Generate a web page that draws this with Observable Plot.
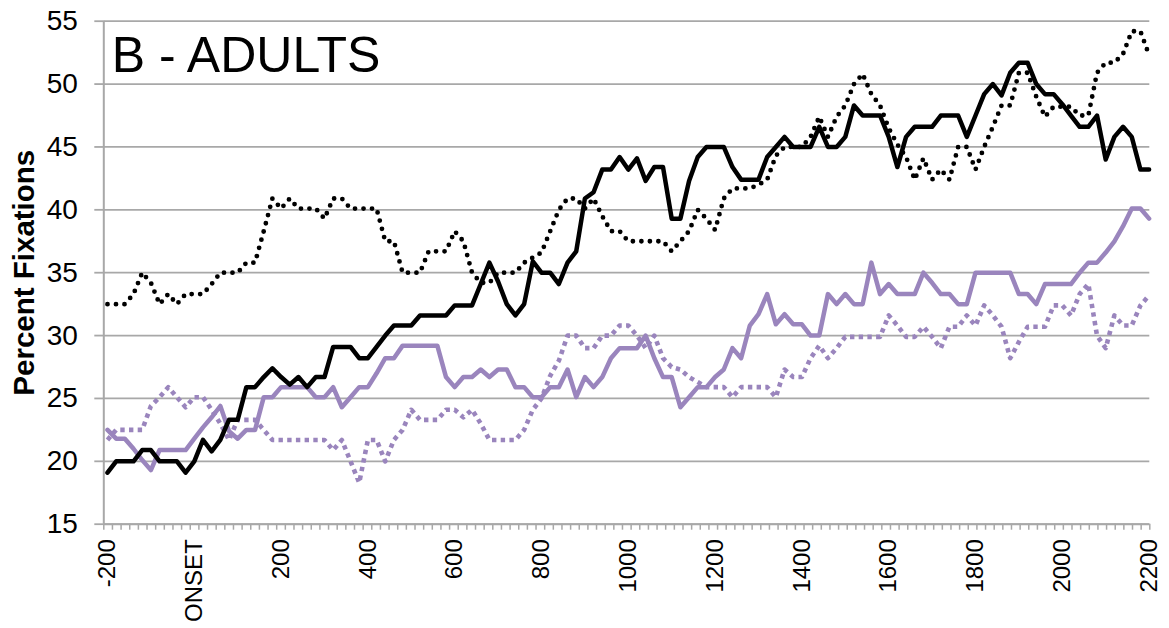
<!DOCTYPE html>
<html><head><meta charset="utf-8">
<script src="https://cdn.jsdelivr.net/npm/d3@7"></script>
<script src="https://cdn.jsdelivr.net/npm/@observablehq/plot@0.6"></script>
<style>
html,body{margin:0;padding:0;background:#fff;}
#chart svg{display:block;}
</style>
</head><body><div id="chart"></div>
<script>
// x categories: time in ms, -200 .. 2200, every 20 ms
const times = d3.range(-200, 2201, 20);

const blackSolid = [
19.1,20.0,20.0,20.0,20.9,20.9,20.0,20.0,20.0,19.1,
20.0,21.7,20.8,21.7,23.3,23.3,25.9,25.9,26.7,27.4,
26.7,26.1,26.7,25.9,26.7,26.7,29.1,29.1,29.1,28.2,
28.2,29.1,30.0,30.8,30.8,30.8,31.6,31.6,31.6,31.6,
32.4,32.4,32.4,34.1,35.8,34.3,32.5,31.6,32.5,35.9,
35.0,35.0,34.1,35.8,36.7,40.9,41.4,43.2,43.2,44.2,
43.2,44.1,42.3,43.4,43.4,39.3,39.3,42.3,44.2,45.0,
45.0,45.0,43.4,42.4,42.4,42.4,44.2,45.0,45.8,45.0,
45.0,45.0,46.6,45.0,45.0,45.8,48.3,47.5,47.5,47.5,
45.8,43.4,45.8,46.6,46.6,46.6,47.5,47.5,47.5,45.8,
47.5,49.2,50.0,49.1,50.9,51.7,51.7,50.0,49.2,49.2,
48.4,47.5,46.6,46.6,47.5,44.0,45.8,46.6,45.8,43.2,
43.2];

const blackDotted = [
32.5,32.5,32.5,33.3,35.0,34.2,32.5,33.3,32.5,33.3,
33.3,33.3,34.1,35.0,35.0,35.0,35.8,35.8,38.3,40.9,
40.1,40.9,40.1,40.1,40.1,39.3,40.9,40.9,40.1,40.1,
40.1,40.1,37.5,37.5,35.0,35.0,35.0,36.7,36.7,36.7,
38.3,37.5,35.0,34.2,34.2,35.0,35.0,35.0,35.8,36.2,
36.6,38.3,40.0,40.9,40.9,40.1,40.9,39.5,38.3,38.3,
37.5,37.5,37.5,37.5,37.5,36.7,37.5,38.3,40.0,39.3,
38.4,40.9,41.7,41.7,41.7,42.0,42.4,44.3,45.0,45.0,
45.0,45.8,47.4,45.8,47.4,48.3,50.0,50.8,49.2,48.3,
46.5,45.2,44.2,42.4,44.1,42.4,43.2,42.4,45.0,45.0,
43.2,45.0,46.6,48.3,48.3,50.9,50.9,49.0,47.4,48.2,
48.2,48.2,47.5,47.5,50.9,51.7,51.7,52.4,54.2,54.2,
52.3];

const purpleSolid = [
22.5,21.8,21.8,21.0,20.1,19.3,20.9,20.9,20.9,20.9,
21.8,22.7,23.5,24.4,22.4,21.8,22.5,22.5,25.1,25.1,
25.9,25.9,25.9,25.9,25.1,25.1,25.9,24.3,25.1,25.9,
25.9,27.0,28.2,28.2,29.2,29.2,29.2,29.2,29.2,26.7,
25.9,26.7,26.7,27.3,26.7,27.3,27.3,25.9,25.9,25.1,
25.1,25.9,25.9,27.3,25.1,26.7,25.9,26.7,28.2,29.0,
29.0,29.0,30.0,28.2,26.7,26.7,24.3,25.1,25.9,25.9,
26.7,27.3,29.0,28.2,30.8,31.7,33.3,30.9,31.7,30.9,
30.9,30.0,30.0,33.3,32.5,33.3,32.5,32.5,35.8,33.3,
34.1,33.3,33.3,33.3,35.0,34.2,33.3,33.3,32.5,32.5,
35.0,35.0,35.0,35.0,35.0,33.3,33.3,32.5,34.1,34.1,
34.1,34.1,35.0,35.8,35.8,36.6,37.5,38.7,40.1,40.1,
39.3];

const purpleDotted = [
21.7,22.5,22.5,22.5,22.5,24.4,25.1,25.9,25.1,24.3,
25.1,25.1,24.1,23.0,21.7,23.3,23.3,23.3,22.5,21.7,
21.7,21.7,21.7,21.7,21.7,21.7,20.9,21.7,20.0,18.3,
21.7,21.7,20.0,21.7,22.5,24.1,23.3,23.3,23.3,24.1,
24.1,23.5,24.1,23.0,21.7,21.7,21.7,21.7,22.5,24.1,
25.0,26.8,28.0,30.0,30.0,29.0,29.0,30.0,30.0,30.8,
30.8,30.0,29.0,30.0,28.2,27.5,27.3,26.7,26.3,25.9,
25.9,25.9,25.1,25.9,25.9,25.9,25.9,25.1,27.3,26.7,
26.7,28.2,29.2,28.2,29.0,29.9,29.9,29.9,29.9,29.9,
31.6,30.8,29.9,29.9,30.7,29.9,29.0,30.7,30.7,31.6,
30.8,32.4,31.6,30.7,28.2,29.5,30.7,30.7,30.7,32.4,
32.4,31.6,33.3,34.1,30.0,29.0,31.6,30.8,30.8,32.4,
33.2];

const xTickValues = [-200,0,200,400,600,800,1000,1200,1400,1600,1800,2000,2200];
const xTickLabels = ["-200","ONSET","200","400","600","800","1000","1200","1400","1600","1800","2000","2200"];
const yTickValues = [15,20,25,30,35,40,45,50,55];
const panelTitle = "B - ADULTS";
const yTitle = "Percent Fixations";

const purple = "#9a85bd";
const gridGray = "#a8a8a8";

const xDomain = [-208.5, 2201.6];
// category boundary tick marks along the x axis (one per 20 ms category)
const minorTicks = d3.range(122).map(k => xDomain[0] + k * (xDomain[1] - xDomain[0]) / 121);

const toRows = vals => times.map((t, i) => ({t, v: vals[i]}));
const labelOf = new Map(xTickValues.map((v, i) => [v, xTickLabels[i]]));

const plot = Plot.plot({
  width: 1169,
  height: 628,
  marginTop: 20.7,
  marginBottom: 104.3,
  marginLeft: 103.3,
  marginRight: 19.7,
  style: {fontFamily: "'Liberation Sans', Arial, sans-serif", background: "#fff", color: "#000"},
  x: {type: "linear", domain: xDomain},
  y: {domain: [15, 55]},
  marks: [
    Plot.gridY(yTickValues, {stroke: gridGray, strokeOpacity: 1, strokeWidth: 1.8}),
    Plot.ruleX([xDomain[0]], {stroke: gridGray, strokeWidth: 2}),
    Plot.ruleY([15], {stroke: gridGray, strokeWidth: 2}),
    Plot.axisY(yTickValues, {tickSize: 9, tickPadding: 17, fontSize: 28, stroke: gridGray, strokeWidth: 1.8, fill: "#000", label: null}),
    Plot.axisX(minorTicks, {tickSize: 6, tickFormat: () => "", stroke: gridGray, strokeWidth: 1.5, label: null}),
    Plot.axisX(xTickValues, {tickSize: 0, tickPadding: 15, tickRotate: -90, fontSize: 24, fill: "#000",
      tickFormat: d => labelOf.get(d), label: null}),
    Plot.line(toRows(purpleDotted), {x: "t", y: "v", stroke: purple, strokeWidth: 4.6,
      strokeDasharray: "4.4,4.3", strokeLinecap: "butt"}),
    Plot.line(toRows(blackDotted), {x: "t", y: "v", stroke: "#000", strokeWidth: 4.8,
      strokeDasharray: "0,8.5", strokeLinecap: "round"}),
    Plot.line(toRows(purpleSolid), {x: "t", y: "v", stroke: purple, strokeWidth: 4.5}),
    Plot.line(toRows(blackSolid), {x: "t", y: "v", stroke: "#000", strokeWidth: 4.5}),
    Plot.text([panelTitle], {frameAnchor: "top-left", lineAnchor: "top", textAnchor: "start",
      dx: 8, dy: 15, fontSize: 50, fill: "#000"}),
    Plot.text([yTitle], {frameAnchor: "left", textAnchor: "middle", rotate: -90, dx: -79, fontSize: 29.5,
      fontWeight: "bold", fill: "#000"})
  ]
});
document.getElementById("chart").appendChild(plot);
</script>
</body></html>
